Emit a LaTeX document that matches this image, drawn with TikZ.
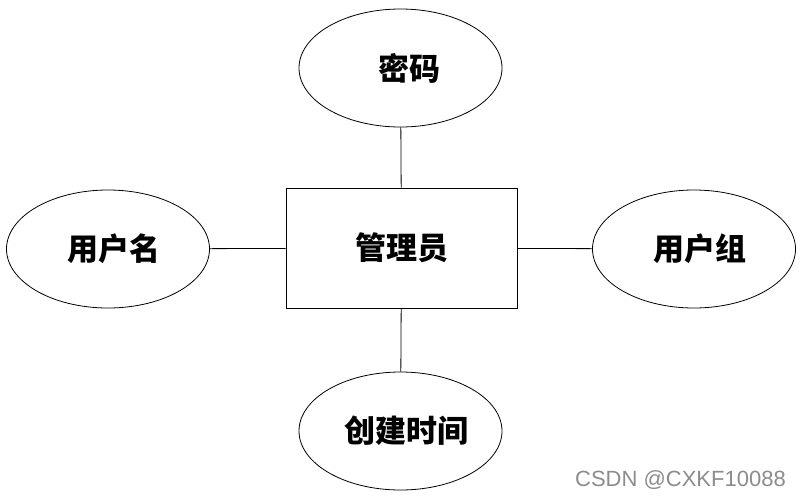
\documentclass[tikz,border=0pt]{standalone}
\usepackage{fontspec}
\newfontfamily\cjk{Noto Sans CJK SC}
\usetikzlibrary{shapes.geometric}
\tikzset{
  attr/.style={draw,thick,ellipse,minimum width=203pt,minimum height=118pt,inner sep=0pt,font=\cjk\bfseries\fontsize{31}{34}\selectfont},
  ent/.style={draw,thick,rectangle,minimum width=231pt,minimum height=120pt,inner sep=0pt,font=\cjk\bfseries\fontsize{31}{34}\selectfont}
}
\begin{document}
\begin{tikzpicture}[x=1pt,y=-1pt]
        \useasboundingbox (0,0) rectangle (802,498);
        % Entity
        \node [ent] (admin) at (401.5,248) {管理员};
        % Attributes
        \node [attr] (pwd) at (400.5,68) {\hspace{18pt}密码};
        \node [attr] (uname) at (108,249) {\hspace{12pt}用户名};
        \node [attr] (ugroup) at (694,249) {\hspace{12pt}用户组};
        \node [attr] (ctime) at (400.5,431) {\hspace{12pt}创建时间};
        % Links
        \draw [thick] (admin) -- (pwd);
        \draw [thick] (admin) -- (uname);
        \draw [thick] (admin) -- (ugroup);
        \draw [thick] (admin) -- (ctime);
        % Watermark
        \node [anchor=south east,text=black!45,font=\fontspec{Liberation Sans}\fontsize{22}{24}\selectfont,inner sep=0pt] (mark) at (786,490) {CSDN @CXKF10088};
\end{tikzpicture}
\end{document}
